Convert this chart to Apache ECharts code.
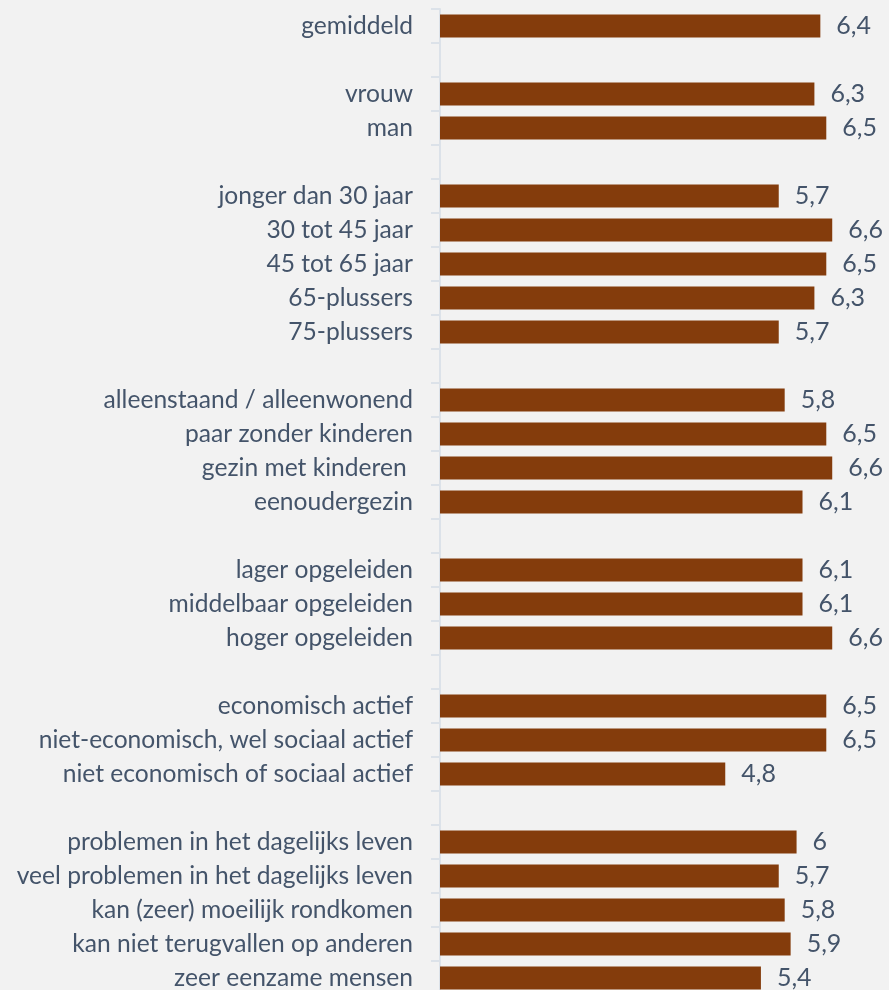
<!DOCTYPE html>
<html>
<head>
<meta charset="utf-8">
<style>
  html, body { margin: 0; padding: 0; background: #F2F2F2; }
  #chart { width: 889px; height: 990px; }
</style>
<script src="https://cdn.jsdelivr.net/npm/echarts@6/dist/echarts.min.js"></script>
</head>
<body>
<div id="chart"></div>
<script>
// Categories top to bottom; '' marks an empty separator row between groups
const categories = [
  'gemiddeld', '',
  'vrouw', 'man', '',
  'jonger dan 30 jaar', '30 tot 45 jaar', '45 tot 65 jaar', '65-plussers', '75-plussers', '',
  'alleenstaand / alleenwonend', 'paar zonder kinderen', 'gezin met kinderen ', 'eenoudergezin', '',
  'lager opgeleiden', 'middelbaar opgeleiden', 'hoger opgeleiden', '',
  'economisch actief', 'niet-economisch, wel sociaal actief', 'niet economisch of sociaal actief', '',
  'problemen in het dagelijks leven', 'veel problemen in het dagelijks leven', 'kan (zeer) moeilijk rondkomen',
  'kan niet terugvallen op anderen', 'zeer eenzame mensen'
];
const values = [
  6.4, null,
  6.3, 6.5, null,
  5.7, 6.6, 6.5, 6.3, 5.7, null,
  5.8, 6.5, 6.6, 6.1, null,
  6.1, 6.1, 6.6, null,
  6.5, 6.5, 4.8, null,
  6.0, 5.7, 5.8, 5.9, 5.4
];

const chart = echarts.init(document.getElementById('chart'), null, { renderer: 'canvas' });
chart.setOption({
  backgroundColor: '#F2F2F2',
  animation: false,
  grid: { left: 440, top: 9, width: 416, height: 986, containLabel: false, outerBoundsMode: 'none' },
  xAxis: {
    type: 'value', min: 0, max: 7,
    show: false
  },
  yAxis: {
    type: 'category',
    inverse: true,
    data: categories,
    axisLine: { show: true, lineStyle: { color: '#DCE2E9', width: 2 } },
    axisTick: { show: true, length: 9, lineStyle: { color: '#DCE2E9', width: 2 } },
    axisLabel: {
      margin: 27,
      color: '#44546A',
      fontFamily: 'Lato',
      fontSize: 24.6,
      interval: 0
    },
    splitLine: { show: false }
  },
  series: [{
    type: 'bar',
    data: values,
    barCategoryGap: '33%',
    itemStyle: { color: '#843C0C' },
    label: {
      show: true,
      position: 'right',
      distance: 16,
      color: '#44546A',
      fontFamily: 'Lato',
      fontSize: 25,
      formatter: p => String(p.value).replace('.', ',')
    }
  }]
});
</script>
</body>
</html>
